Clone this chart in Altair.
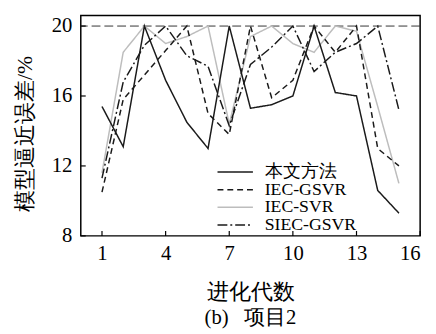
import altair as alt
import pandas as pd

gens = list(range(1, 16))
series_names = ["IEC-SVR", "本文方法", "IEC-GSVR", "SIEC-GSVR"]
legend_order = ["本文方法", "IEC-GSVR", "IEC-SVR", "SIEC-GSVR"]
ours = [15.4, 13.1, 20.0, 16.9, 14.5, 13.0, 20.0, 15.3, 15.5, 16.0, 20.0, 16.2, 16.0, 10.6, 9.3]
iec_gsvr = [10.5, 15.8, 17.2, 18.6, 20.0, 15.0, 13.8, 20.0, 15.9, 16.9, 20.0, 18.5, 20.0, 13.0, 12.0]
iec_svr = [11.6, 18.5, 20.0, 19.0, 19.4, 20.0, 14.4, 19.4, 20.0, 19.0, 18.5, 20.0, 19.7, 15.4, 11.0]
siec_gsvr = [11.3, 16.8, 18.9, 20.0, 18.3, 17.7, 14.3, 17.8, 18.8, 20.0, 17.4, 18.5, 19.0, 20.0, 15.2]
x_ticks = [1, 4, 7, 10, 13, 16]
y_ticks = [8, 12, 16, 20]
ref_level = [20]

values = {"本文方法": ours, "IEC-GSVR": iec_gsvr, "IEC-SVR": iec_svr, "SIEC-GSVR": siec_gsvr}
rows = []
for i, name in enumerate(series_names):
    for g, v in zip(gens, values[name]):
        rows.append({"gen": g, "val": v, "series": name, "ord": i})
df = pd.DataFrame(rows)

W, H = 345, 224
font = "Liberation Serif, Times New Roman, Times, DejaVu Serif, serif"

x_scale = alt.Scale(domain=[0, 16], nice=False, zero=False)
y_scale = alt.Scale(domain=[8, 20.6], nice=False, zero=False)
color_scale = alt.Scale(domain=legend_order, range=["#1a1a1a", "#1a1a1a", "#bdbdbd", "#1a1a1a"])
dash_scale = alt.Scale(domain=legend_order, range=[[1, 0], [6, 4], [1, 0], [10, 3, 2, 3]])

x_axis = alt.Axis(values=x_ticks, title="进化代数", labelPadding=7,
                  titleY=57, titleBaseline="middle")
y_axis = alt.Axis(values=y_ticks, title="模型逼近误差/%", labelPadding=9,
                  titleX=-57, titleY=120, titleBaseline="middle")

leg = alt.Legend(title=None, orient="none", legendX=148, legendY=150,
                 symbolType="M-3,0H3", symbolSize=144, symbolStrokeWidth=1.5,
                 labelFont=font, labelFontSize=18, labelOffset=21, rowPadding=0,
                 labelColor="black", padding=0)

lines = alt.Chart(df).mark_line(strokeWidth=1.5).encode(
    x=alt.X("gen:Q", scale=x_scale, axis=x_axis),
    y=alt.Y("val:Q", scale=y_scale, axis=y_axis),
    color=alt.Color("series:N", scale=color_scale, legend=leg),
    strokeDash=alt.StrokeDash("series:N", scale=dash_scale, legend=leg),
    detail="ord:O",
)

ref = alt.Chart(pd.DataFrame({"y": ref_level})).mark_rule(
    strokeDash=[9, 4], strokeWidth=1, color="#333333"
).encode(y=alt.Y("y:Q", scale=y_scale, axis=y_axis))

xt = alt.Chart(pd.DataFrame({"t": x_ticks})).mark_rule(color="black", strokeWidth=1.2).encode(
    x=alt.X("t:Q", scale=x_scale, axis=x_axis), y=alt.value(H), y2=alt.value(H - 5))
yt = alt.Chart(pd.DataFrame({"t": y_ticks})).mark_rule(color="black", strokeWidth=1.2).encode(
    y=alt.Y("t:Q", scale=y_scale, axis=y_axis), x=alt.value(0), x2=alt.value(5))

chart = alt.layer(ref, lines, xt, yt).properties(
    width=W, height=H,
    title=alt.TitleParams("(b)\u00a0\u00a0\u00a0项目2", orient="bottom", font=font, fontSize=21,
                          fontWeight="normal", color="black", offset=5),
    autosize=alt.AutoSizeParams(type="none"),
    padding={"left": 74, "top": 5, "right": 8, "bottom": 93},
).configure_view(stroke="black", strokeWidth=1.5).configure_axis(
    grid=False, domain=False, ticks=False, tickSize=0,
    labelFont=font, labelFontSize=21, labelColor="black",
    titleFont=font, titleFontSize=22, titleFontWeight="normal", titleColor="black",
)

chart.save("out.html", embed_options={"renderer": "svg", "actions": False})
